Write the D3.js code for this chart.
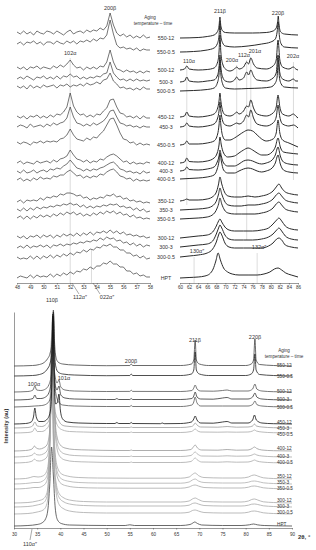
<!DOCTYPE html>
<html lang="en">
<head>
<meta charset="UTF-8">
<title>XRD patterns after aging</title>
<script src="https://d3js.org/d3.v7.min.js"></script>
<style>
  body { margin: 0; background: #fff; }
  text { font-family: "Liberation Sans", Arial, sans-serif; fill: #333; }
</style>
</head>
<body>
<script>
// sample names, top to bottom (aging temperature - time)
var samples = ["550-12", "550-0.5", "500-12", "500-3", "500-0.5",
               "450-12", "450-3", "450-0.5", "400-12", "400-3", "400-0.5",
               "350-12", "350-3", "350-0.5", "300-12", "300-3", "300-0.5", "HPT"];

// ---- top left panel, 2theta 48..58 (step 0.25) ----
var tlTheta = [48, 48.25, 48.5, 48.75, 49, 49.25, 49.5, 49.75, 50, 50.25,
               50.5, 50.75, 51, 51.25, 51.5, 51.75, 52, 52.25, 52.5, 52.75,
               53, 53.25, 53.5, 53.75, 54, 54.25, 54.5, 54.75, 55, 55.25,
               55.5, 55.75, 56, 56.25, 56.5, 56.75, 57, 57.25, 57.5, 57.75, 58];
var tlOffset = [250, 240, 215, 205, 196, 166, 157, 140, 120, 111, 103, 81, 73, 65, 46, 36, 25, 6];
var tlCounts = [
  [1,-1,2,-1,1,-2,2,0,-1,2, 1,-1,2,0,-2,1,3,-1,1,2, 0,3,1,3,2,5,3,7,20,8, 0,-3,-1,-4,-2,-5,-3,-5,-2,-5, -4],
  [-1,1,-2,1,0,2,-1,1,-2,1, 1,-1,2,0,-1,2,0,2,-1,2, 1,3,1,4,2,5,4,8,23,9, -2,-5,-4,-6,-5,-7,-5,-8,-6,-7, -7],
  [1,-1,1,-2,1,0,2,-1,1,0, -1,2,0,3,1,4,8,3,0,1, -2,1,-1,1,-1,2,1,6,18,6, -1,-2,-4,-2,-4,-3,-5,-3,-5,-3, -4],
  [-1,1,-1,2,0,-2,1,0,2,-1, 1,-1,2,-1,2,1,4,1,2,-1, 1,-1,1,0,2,1,4,5,16,5, 1,-2,-1,-3,-1,-3,-1,-3,-2,-3, -2],
  [1,-1,1,-2,2,-1,1,-1,2,0, 1,2,-1,2,1,3,0,2,1,3, 1,4,2,3,5,3,7,8,14,6, 3,-1,0,-2,-1,-3,-1,-3,0,-2, -2],
  [1,-1,1,-2,1,0,2,-1,1,-1, 2,0,3,2,5,10,24,11,5,2, 3,0,2,0,3,2,6,9,17,18, 10,4,3,0,1,-1,1,-2,1,-1, -1],
  [-1,1,0,-2,2,-1,0,1,-1,2, 0,3,1,3,4,8,19,9,3,2, 0,2,0,3,1,3,5,9,15,16, 9,3,2,0,1,-1,0,-2,0,-1, -1],
  [1,-1,1,0,-2,1,0,2,0,2, 1,2,1,4,5,8,14,8,4,3, 2,5,3,6,5,9,12,18,24,25, 18,10,4,3,0,1,-2,0,-2,-1, -2],
  [0,2,-1,1,0,-1,2,0,1,2, 0,3,1,4,5,7,13,8,4,3, 1,3,0,2,1,4,3,6,8,9, 7,4,1,2,-1,1,-1,0,-1,1, 0],
  [1,-1,2,-1,0,2,-1,1,2,0, 3,2,4,3,6,8,12,8,4,3, 1,3,1,3,2,4,5,7,9,10, 7,3,2,0,1,-1,0,-2,1,-1, 0],
  [0,2,-1,1,-1,2,0,3,1,2, 1,4,3,5,5,8,10,7,4,5, 2,4,2,4,3,6,5,8,10,11, 8,4,3,1,2,-1,1,-1,0,-1, 0],
  [0,2,-1,2,1,2,1,4,2,5, 4,6,5,8,7,9,9,8,6,7, 4,5,2,4,3,5,4,7,6,8, 5,6,3,4,1,2,0,1,-1,0, -1],
  [1,-1,2,-1,2,0,3,1,3,2, 4,3,5,4,6,5,7,5,6,3, 5,2,4,2,4,3,5,4,6,5, 6,3,4,2,3,0,2,-1,1,-2, -1],
  [0,2,-1,2,-1,2,0,3,1,3, 1,4,2,5,3,6,4,6,3,5, 2,4,2,5,3,6,4,7,5,7, 4,6,3,4,1,3,0,1,-1,0, -1],
  [1,-1,1,-2,1,0,2,-1,2,0, 2,-1,2,0,3,1,3,1,4,1, 4,2,5,2,5,4,6,4,7,4, 6,3,5,2,3,1,2,0,1,-1, 0],
  [-1,1,-1,2,-1,1,0,2,0,2, -1,2,1,3,1,3,2,4,3,5, 4,6,5,7,6,9,7,10,8,9, 6,7,4,5,2,4,1,3,0,2, 1],
  [1,-1,0,-1,2,-1,2,-1,2,0, 3,0,3,1,4,2,5,3,6,5, 8,6,9,8,11,10,13,12,14,11, 11,8,8,5,5,2,3,0,2,-1, 0],
  [-1,1,0,-1,2,-1,2,0,1,0, 3,0,3,1,4,2,5,3,6,5, 8,7,10,8,11,11,14,13,16,13, 13,10,10,6,6,3,4,1,2,0, 0]
];
var tlTicks = [48, 49, 50, 51, 52, 53, 54, 55, 56, 57, 58];

// ---- top right panel, 2theta 60..86, [2theta, counts above offset] ----
var trOffset = [245, 231, 213, 201, 192, 166, 156, 138, 120, 112, 104, 82, 73, 64, 45, 36, 26, 5];
var trCounts = [
  [[60,0],[64,0.5],[66,1.5],[67.5,3],[68.2,6],[68.6,12],[68.8,21],[69.0,12],[69.4,7],[70,5.5],[72,5],[76,5],[79,5.5],[80.5,7],[81.2,10],[81.5,16],[81.65,22],[81.8,14],[82.2,6],[83,4],[86,3]],
  [[60,0],[63,0.5],[66,2],[67.5,4],[68.2,8],[68.6,16],[68.8,30],[69.0,16],[69.4,9],[70,6],[72,5],[75,6],[78,8],[80,10],[81,13],[81.4,20],[81.65,30],[81.9,16],[82.3,8],[83,5],[86,4]],
  [[60,0],[61,1],[61.5,4],[62,1],[64,0],[66,0.5],[67.5,2],[68.3,8],[68.6,18],[68.8,35],[69.0,18],[69.4,6],[70,1],[71,-1],[72,1],[72.5,3],[73,1],[74,3],[74.7,8],[75.1,6],[75.6,12],[76.2,6],[77,2],[79,1],[80.5,4],[81.2,10],[81.6,30],[82,10],[82.6,3],[84,1],[85,3],[85.5,1],[86,0]],
  [[60,0],[61,1],[61.5,5],[62,1],[64,0],[66,1],[67.5,2],[68.3,7],[68.6,15],[68.8,27],[69.0,15],[69.4,5],[70,1],[71,0],[72,2],[72.5,5],[73,2],[74,4],[74.7,10],[75.1,7],[75.6,12],[76.2,6],[77,2],[79,1],[80.5,4],[81.2,9],[81.6,27],[82,9],[82.6,3],[84,1],[85,3],[85.5,1],[86,1]],
  [[60,0],[63,0.5],[66,1.5],[67.5,3],[68.3,9],[68.6,17],[68.8,31],[69.0,17],[69.4,7],[70,3],[72,2],[75,2.5],[78,3],[80,4],[81,8],[81.4,14],[81.65,31],[81.9,14],[82.3,7],[83,4],[86,3]],
  [[60,0],[61,1],[61.5,5],[62,1],[64,0],[66,1],[67.5,3],[68.3,9],[68.6,16],[68.8,24],[69.0,16],[69.4,6],[70,2],[71,1],[72,3],[72.5,5],[73,3],[74,6],[74.7,11],[75.1,10],[75.6,17],[76.2,9],[77,3],[79,1],[80.5,4],[81.2,10],[81.6,22],[82,10],[82.6,3],[84,1],[85,3],[85.5,1],[86,-1]],
  [[60,0],[61,1],[61.5,4],[62,1],[64,0],[66,1],[67.5,3],[68.3,9],[68.6,16],[68.8,25],[69.0,16],[69.4,6],[70,2],[71,1],[72,3],[72.5,4],[73,3],[74,6],[74.7,12],[75.1,10],[75.6,17],[76.2,9],[77,3],[79,1],[80.5,4],[81.2,10],[81.6,22],[82,10],[82.6,3],[84,1],[85,2],[85.5,1],[86,-1]],
  [[60,0],[61,1],[61.5,4],[62,1],[64,1],[66,2],[67.5,4],[68.3,11],[68.6,20],[68.8,30],[69.0,20],[69.4,9],[70,5],[71,5],[72,7],[73,10],[74,13],[75,15],[76,14],[77,10],[78,6],[79,4],[80.5,6],[81.2,12],[81.6,25],[82,12],[82.6,5],[84,2],[86,-2]],
  [[60,0],[61,1],[61.5,5],[62,1.5],[64,1],[66,2],[67.5,5],[68.2,10],[68.6,18],[68.8,26],[69.1,18],[69.6,10],[70.5,6],[72,7],[73,10],[74,13],[75,15],[76,13],[77,10],[78,8],[79,8],[80.3,11],[81,16],[81.6,25],[82.1,16],[82.8,11],[84,10],[86,9]],
  [[60,0],[61,1],[61.5,4],[62,1.5],[64,1],[66,2],[67.5,4],[68.2,9],[68.6,15],[68.8,21],[69.1,15],[69.6,8],[70.5,5],[72,5],[73,7],[74,10],[75,11],[76,10],[77,8],[78,7],[79,8],[80.3,11],[81,16],[81.6,24],[82.1,15],[82.8,9],[84,7],[86,6]],
  [[60,0],[62,0.5],[64,1],[66,2],[67.5,4],[68.2,10],[68.6,18],[68.8,26],[69.1,18],[69.6,9],[70.5,6],[72,6],[73,8],[74,10],[75,11],[76,10],[77,8],[78,7],[79,8],[80.3,11],[81,16],[81.6,24],[82.1,15],[82.8,9],[84,7],[86,6]],
  [[60,0],[61,1],[61.5,2],[62,1],[64,1],[66,2],[67.4,5],[68.1,10],[68.5,17],[68.8,24],[69.2,17],[69.8,9],[70.6,5],[72,4],[73.5,4],[75,5],[76.5,4],[78,5],[79.5,7],[80.5,10],[81.2,14],[81.8,17],[82.4,13],[83.2,9],[84.5,7],[86,6]],
  [[60,0],[62,0.5],[64,1],[66,2],[67.4,5],[68.1,10],[68.5,16],[68.8,22],[69.2,16],[69.8,9],[70.6,5],[72,4],[73.5,4],[75,5],[76.5,5],[78,6],[79.5,8],[80.5,11],[81.2,15],[81.8,17],[82.4,14],[83.2,10],[84.5,8],[86,7]],
  [[60,0],[62,0.5],[64,1],[66,2],[67.4,5],[68.1,10],[68.5,15],[68.8,21],[69.2,15],[69.8,9],[70.6,6],[72,5],[73.5,5],[75,5],[76.5,5],[78,6],[79.5,8],[80.5,11],[81.2,15],[81.8,17],[82.4,14],[83.2,10],[84.5,8],[86,7]],
  [[60,0],[62,1],[64,2],[66,3],[67.2,6],[68,12],[68.5,17],[68.8,19],[69.2,16],[69.9,11],[70.8,8],[72,7],[74,7],[76,7],[78,8],[79.5,10],[80.5,14],[81.3,18],[81.8,20],[82.4,17],[83.2,12],[84.5,9],[86,8]],
  [[60,0],[62,1],[64,2],[66,3],[67.2,6],[68,13],[68.5,19],[68.8,22],[69.2,19],[69.9,12],[70.8,8],[72,7],[74,7],[76,7],[78,8],[79.5,10],[80.5,13],[81.3,17],[81.8,19],[82.4,16],[83.2,11],[84.5,8],[86,7]],
  [[60,0],[62,1],[64,2],[66,4],[67.2,8],[68,15],[68.5,22],[68.8,25],[69.2,22],[69.9,14],[70.8,10],[72,9],[74,9],[76,9],[78,9],[79.5,11],[80.5,14],[81.3,18],[81.8,19],[82.4,17],[83.2,12],[84.5,10],[86,9]],
  [[60,0],[62,0.5],[64,1],[65.5,2],[66.5,4],[67.3,9],[67.9,17],[68.4,25],[68.9,18],[69.6,10],[70.5,6],[71.5,4],[73,3],[75,3],[77,3],[78.5,4],[79.8,6],[80.8,9],[81.6,10],[82.4,8],[83.3,5],[84.5,3],[86,1]]
];
var trTicks = [60, 62, 64, 66, 68, 70, 72, 74, 76, 78, 80, 82, 84, 86];

// ---- bottom panel, full scan 30..90, [2theta, counts above offset] ----
var btOffset = [162, 152, 136, 128, 121, 104, 100, 95, 77, 71, 65, 49, 44, 39, 25, 21, 14, 2];
var btCounts = [
  [[30,0],[34,0.5],[35.5,1.5],[36.5,3.5],[37.2,7],[37.8,13],[38.2,24],[38.5,56],[38.75,24],[39,10],[39.5,4],[40.5,2],[43,1],[50,0.3],[55,0.5],[55.3,2],[55.6,0.5],[66,0.5],[68.3,2],[68.8,6],[69.1,26],[69.35,6],[70,2],[72,0.5],[80,0.5],[81.2,2],[81.7,6],[82,27],[82.25,6],[83,1.5],[86,0.5],[90,0]],
  [[30,0],[34,0.5],[35.5,1.5],[36.5,3.5],[37.2,7],[37.8,13],[38.2,25],[38.5,64],[38.75,25],[39,10],[39.5,4],[40.5,2],[43,1],[50,0.3],[55,0.5],[55.3,2],[55.6,0.5],[66,0.5],[68.3,2],[68.8,6],[69.1,24],[69.35,6],[70,2],[72,0.5],[80,0.5],[81.2,2],[81.7,6],[82,22],[82.25,6],[83,1.5],[86,0.5],[90,0]],
  [[30,0],[33,0.5],[34.1,2],[34.5,6],[34.9,2],[35.8,1.5],[36.8,3],[37.5,7],[38,16],[38.2,36],[38.4,78],[38.6,36],[38.8,18],[39.3,9],[39.7,12],[40.1,5],[41,2],[43,1],[50,0.5],[55,0.6],[55.3,1.8],[55.6,0.6],[66,0.5],[68.4,1.5],[68.8,4],[69.1,7],[69.5,3],[70.3,1],[73,0.8],[75,1.5],[76,2],[77,1],[80.5,1],[81.5,3],[82,8],[82.4,3],[83.5,1],[86,0.3],[90,0]],
  [[30,0],[33,0.5],[34.1,1.5],[34.5,5],[34.9,1.5],[35.8,1.5],[36.8,3],[37.5,7],[38,18],[38.2,40],[38.4,86],[38.6,40],[38.8,18],[39.3,10],[39.7,14],[40.1,5],[41,2],[43,1],[50,0.5],[51.8,0.5],[52.2,1.5],[52.6,0.5],[55,0.5],[55.3,1.5],[55.6,0.5],[66,0.5],[68.4,1.5],[68.8,4],[69.1,8],[69.5,3],[70.3,1],[73,0.8],[75,2],[76,2.5],[77,1],[80.5,1],[81.5,3],[82,7],[82.4,3],[83.5,1],[86,0.3],[90,0]],
  [[30,0],[33,0.5],[34.5,1],[36,1.5],[37,3],[37.7,7],[38.1,18],[38.3,40],[38.5,89],[38.7,40],[38.9,18],[39.4,7],[39.8,4],[40.5,2],[43,1],[50,0.5],[55,0.5],[55.3,1.5],[55.6,0.5],[66,0.5],[68.4,2],[68.8,5],[69.1,10],[69.5,4],[70.3,1],[75,1],[80.5,1],[81.5,2.5],[82,6],[82.4,2.5],[83.5,1],[86,0.3],[90,0]],
  [[30,0],[32.5,0.5],[33.7,2],[34.2,7],[34.5,16],[34.8,7],[35.4,2.5],[36.3,2.5],[37.2,5],[37.8,12],[38.1,30],[38.4,108],[38.7,40],[39.0,20],[39.4,22],[39.7,30],[40.0,14],[40.5,5],[41.5,2],[44,1],[50,0.5],[51.8,0.5],[52.2,1.5],[52.6,0.5],[55,0.5],[55.3,1.5],[55.6,0.5],[61.6,0.3],[62,1],[62.4,0.3],[66,0.5],[68.3,2],[68.8,5],[69.1,8],[69.5,4],[70.3,1],[73,0.8],[75,2],[76,2.5],[77,1],[80.5,1],[81.5,4],[81.9,9],[82.3,4],[83.5,1],[86,0.3],[90,0]],
  [[30,0],[33,0.5],[34,2],[34.5,6],[35,2],[36,1.5],[37,4],[37.7,10],[38.0,30],[38.3,110],[38.6,35],[39.0,14],[39.6,8],[40.1,4],[41,2],[44,1],[50,0.5],[55,0.5],[55.3,1],[55.6,0.5],[66,0.5],[68.3,1.5],[68.8,3],[69.1,5],[69.5,3],[70.3,1],[74,0.8],[76,1.5],[78,0.8],[80.5,1],[81.5,2],[81.9,4],[82.3,2],[83.5,1],[86,0.3],[90,0]],
  [[30,0],[33,0.5],[34,1.5],[34.5,5],[35,1.5],[36,1.5],[37,4],[37.7,10],[38.0,30],[38.3,113],[38.6,32],[39.0,13],[39.6,6],[40.5,3],[42,1.5],[45,1],[50,0.5],[55,0.5],[55.3,1],[55.6,0.5],[66,0.5],[68.3,1.5],[68.8,3],[69.1,4],[69.5,2.5],[70.3,1],[74,0.8],[76,1],[78,0.8],[80.5,1],[81.5,2],[81.9,3],[82.3,2],[83.5,1],[86,0.3],[90,0]],
  [[30,0],[32.5,0.5],[33.7,1.5],[34.1,3],[34.4,5],[34.8,3],[35.5,2],[36.3,3],[37.1,6],[37.7,20],[38.0,60],[38.3,129],[38.6,65],[38.9,30],[39.3,14],[40,6],[41,3],[43,1.5],[46,1],[52,0.5],[55,0.5],[55.3,1],[55.6,0.5],[66,0.5],[68.2,1.5],[68.7,4],[69.1,6],[69.6,3],[70.5,1],[74,0.8],[76,1.5],[78,0.8],[80.5,1],[81.4,2.5],[81.9,4],[82.4,2.5],[83.5,1],[86,0.3],[90,0]],
  [[30,0],[32.5,0.5],[33.7,1.5],[34.1,2.5],[34.4,4],[34.8,2.5],[35.5,2],[36.3,3],[37.1,6],[37.7,20],[38.0,62],[38.3,135],[38.6,66],[38.9,30],[39.3,14],[40,6],[41,3],[43,1.5],[46,1],[52,0.5],[55,0.5],[55.3,1],[55.6,0.5],[66,0.5],[68.2,1.5],[68.7,3.5],[69.1,5],[69.6,3],[70.5,1],[74,0.8],[76,1.2],[78,0.8],[80.5,1],[81.4,2],[81.9,3],[82.4,2],[83.5,1],[86,0.3],[90,0]],
  [[30,0],[32.5,0.5],[33.7,1.5],[34.1,2.5],[34.4,4],[34.8,2.5],[35.5,2],[36.3,3],[37.1,6],[37.7,21],[38.0,64],[38.3,138],[38.6,68],[38.9,31],[39.3,14],[40,6],[41,3],[43,1.5],[46,1],[52,0.5],[55,0.5],[55.3,1],[55.6,0.5],[66,0.5],[68.2,1.5],[68.7,3.5],[69.1,5],[69.6,3],[70.5,1],[74,0.8],[76,1.2],[78,0.8],[80.5,1],[81.4,2],[81.9,3],[82.4,2],[83.5,1],[86,0.3],[90,0]],
  [[30,0],[32.5,0.5],[33.5,1.5],[34.3,2.5],[35.2,2],[36.2,3],[37,7],[37.5,20],[37.9,70],[38.2,149],[38.5,70],[38.9,25],[39.5,10],[40.3,5],[41.5,3],[44,1.5],[48,1],[55,0.8],[66,0.8],[67.8,2],[68.5,4.5],[69.1,6],[69.8,3.5],[71,1.5],[75,1],[79,1],[80.6,2],[81.3,3.5],[81.9,4],[82.6,3],[83.8,1.2],[86,0.5],[90,0]],
  [[30,0],[32.5,0.5],[33.5,1],[34.3,1.5],[35.2,1.5],[36.2,3],[37,7],[37.5,20],[37.9,72],[38.2,152],[38.5,72],[38.9,25],[39.5,10],[40.3,5],[41.5,3],[44,1.5],[48,1],[55,0.8],[66,0.8],[67.8,2],[68.5,4],[69.1,5],[69.8,3],[71,1.5],[75,1],[79,1],[80.6,1.8],[81.3,2.8],[81.9,3],[82.6,2.5],[83.8,1.2],[86,0.5],[90,0]],
  [[30,0],[32.5,0.5],[33.5,1],[34.3,1.5],[35.2,1.5],[36.2,3],[37,7],[37.5,21],[37.9,74],[38.2,154],[38.5,74],[38.9,26],[39.5,10],[40.3,5],[41.5,3],[44,1.5],[48,1],[55,0.8],[66,0.8],[67.8,2],[68.5,3.5],[69.1,4],[69.8,3],[71,1.5],[75,1],[79,1],[80.6,1.8],[81.3,2.8],[81.9,3],[82.6,2.5],[83.8,1.2],[86,0.5],[90,0]],
  [[30,0],[33,0.5],[35,2],[36.3,4],[37.1,10],[37.6,40],[38.1,165],[38.6,50],[39.1,20],[39.8,9],[40.8,5],[42,3],[45,1.5],[50,1],[55,1],[66,1],[67.8,2],[68.5,4],[69.1,5],[69.8,3.5],[71,1.5],[75,1],[79,1],[80.6,2],[81.3,3.5],[81.9,4],[82.6,3],[83.8,1.2],[86,0.5],[90,0]],
  [[30,0],[33,0.5],[35,2],[36.3,4],[37.1,10],[37.6,41],[38.1,167],[38.6,51],[39.1,20],[39.8,9],[40.8,5],[42,3],[45,1.5],[50,1],[55,1],[66,1],[67.8,1.8],[68.5,3.5],[69.1,4],[69.8,3],[71,1.5],[75,1],[79,1],[80.6,1.8],[81.3,2.8],[81.9,3],[82.6,2.5],[83.8,1.2],[86,0.5],[90,0]],
  [[30,0],[33,0.5],[35,2],[36.3,4],[37.1,10],[37.6,42],[38.1,169],[38.6,52],[39.1,21],[39.8,9],[40.8,5],[42,3],[45,1.5],[50,1],[55,1],[66,1],[67.8,1.8],[68.5,3.5],[69.1,4],[69.8,3],[71,1.5],[75,1],[79,1],[80.6,1.8],[81.3,2.8],[81.9,3],[82.6,2.5],[83.8,1.2],[86,0.5],[90,0]],
  [[30,0],[33,0.5],[35,1.5],[36,3],[36.8,7],[37.3,16],[37.7,40],[38.1,79],[38.5,50],[38.9,18],[39.4,6],[40.2,2.5],[42,1],[50,0.5],[54,0.5],[55,1.2],[56,0.5],[66,0.5],[68,1.5],[68.6,3],[69.0,4],[69.6,2.5],[70.5,1],[75,0.5],[79,0.5],[80.8,1.2],[81.7,2],[82.5,1.2],[84,0.5],[90,0]]
];
var btTicks = [30, 35, 40, 45, 50, 55, 60, 65, 70, 75, 80, 85, 90];

// line colours of the full scans (dark = long / high temperature, grey = the rest)
var btStroke = ["#444", "#222", "#555", "#333", "#555", "#111", "#9a9a9a", "#aaa",
                "#999", "#aaa", "#aaa", "#aaa", "#b0b0b0", "#aaa", "#aaa", "#aaa", "#aaa", "#444"];
// label baselines of the full scans (packed groups spread a little)
var btLabelY = [367, 378, 393, 401, 408.5, 423.5, 429.5, 436, 450, 457.5, 464, 477.5, 483.5, 490, 501.5, 507.5, 514, 526];

var W = 316, H = 550;
var svg = d3.select("body").append("svg").attr("width", W).attr("height", H);

var xTL = d3.scaleLinear().domain([48, 58]).range([17, 150]);
var xTR = d3.scaleLinear().domain([60, 86]).range([180, 298]);
var yTop = d3.scaleLinear().domain([0, 270]).range([283, 13]);
var xB = d3.scaleLinear().domain([30, 90]).range([14, 292]);
var yB = d3.scaleLinear().domain([0, 216]).range([528, 312]);

function guide(x, y1, y2) {
    svg.append("line").attr("x1", x).attr("x2", x).attr("y1", y1).attr("y2", y2)
        .attr("stroke", "#c4c4c4").attr("stroke-width", 0.6);
}
function label(txt, x, y, size, anchor) {
    return svg.append("text").attr("x", x).attr("y", y)
        .attr("font-size", size || 5.5).attr("text-anchor", anchor || "middle").text(txt);
}

// guide lines of the top panels
guide(xTL(52.0), 58, 283);
guide(xTL(53.6), 250, 283);
guide(xTR(61.5), 66, 205);
guide(xTR(72.5), 65, 215);
guide(xTR(74.7), 60, 240);
guide(xTR(75.6), 57, 130);
guide(xTR(85.0), 62, 180);
guide(xTR(63.1), 257, 283);
guide(xTR(77.0), 253, 283);

// top left curves (noisy)
samples.forEach(function (s, i) {
    var line = d3.line()
        .x(function (d, j) { return xTL(tlTheta[j]); })
        .y(function (d) { return yTop(tlOffset[i] + d); });
    svg.append("path").attr("d", line(tlCounts[i]))
        .attr("fill", "none").attr("stroke", "#3a3a3a").attr("stroke-width", 0.7);
});

// top right curves
samples.forEach(function (s, i) {
    var line = d3.line()
        .x(function (d) { return xTR(d[0]); })
        .y(function (d) { return yTop(trOffset[i] + d[1]); })
        .curve(d3.curveMonotoneX);
    svg.append("path").attr("d", line(trCounts[i]))
        .attr("fill", "none").attr("stroke", "#2a2a2a").attr("stroke-width", 1);
});

// sample names between the two top panels
samples.forEach(function (s, i) {
    label(s, 166, yTop(trOffset[i]) + 2, 5.3);
});
label("Aging", 150, 19, 4.6);
label("temperature \u2013 time", 153, 25, 4.6);

// top axes
function smallAxis(ax, y) {
    var g = svg.append("g").attr("transform", "translate(0," + y + ")").call(ax);
    g.select(".domain").attr("stroke", "#555").attr("stroke-width", 0.6);
    g.selectAll(".tick line").attr("stroke", "#555").attr("stroke-width", 0.6);
    g.selectAll(".tick text").attr("font-size", 4.6).attr("fill", "#444")
        .attr("font-family", "Liberation Sans, Arial, sans-serif");
    return g;
}
smallAxis(d3.axisBottom(xTL).tickValues(tlTicks).tickSize(1.5).tickSizeOuter(0).tickPadding(1.5), 283);
smallAxis(d3.axisBottom(xTR).tickValues(trTicks).tickSize(1.5).tickSizeOuter(0).tickPadding(1.5), 283);

// top peak labels
label("200\u03b2", xTL(55.0), 10);
label("102\u03b1", xTL(52.0), 55);
label("112\u03b1\u2033", 80, 299);
label("022\u03b1\u2033", 107, 299);
svg.append("line").attr("x1", 72).attr("y1", 283).attr("x2", 79).attr("y2", 294)
    .attr("stroke", "#555").attr("stroke-width", 0.5);
svg.append("line").attr("x1", 93).attr("y1", 283).attr("x2", 100).attr("y2", 294)
    .attr("stroke", "#555").attr("stroke-width", 0.5);
label("211\u03b2", 220, 13);
label("220\u03b2", 278, 15);
label("110\u03b1", 189, 63);
label("200\u03b1", 232, 62);
label("112\u03b1", 244, 57);
label("201\u03b1", 255, 53);
label("202\u03b1", 293, 58);
label("130\u03b1\u2033", 197, 253);
label("132\u03b1\u2033", 259, 249);

// bottom panel: grey curves first, dark ones on top
var order = d3.range(samples.length).sort(function (a, b) {
    return d3.hsl(btStroke[b]).l - d3.hsl(btStroke[a]).l;
});
order.forEach(function (i) {
    var line = d3.line()
        .x(function (d) { return xB(d[0]); })
        .y(function (d) { return yB(btOffset[i] + d[1]); })
        .curve(d3.curveMonotoneX);
    svg.append("path").attr("d", line(btCounts[i]))
        .attr("fill", "none").attr("stroke", btStroke[i]).attr("stroke-width", 0.8);
});
samples.forEach(function (s, i) {
    label(s, 277, btLabelY[i], 4.7, "start");
});
label("Aging", 284, 352, 4.6);
label("temperature \u2013 time", 284, 358, 4.6);

smallAxis(d3.axisBottom(xB).tickValues(btTicks).tickSize(1.5).tickSizeOuter(0).tickPadding(3), 528);
var gy = svg.append("g").attr("transform", "translate(14,0)")
    .call(d3.axisLeft(yB).tickValues([]).tickSizeOuter(0));
gy.select(".domain").attr("stroke", "#555").attr("stroke-width", 0.6);

label("110\u03b2", 52, 302);
label("100\u03b1", 34, 386);
label("101\u03b1", 64, 380);
label("200\u03b2", 131, 363);
label("211\u03b2", 195, 342);
label("220\u03b2", 255, 339);
label("110\u03b1\u2033", 30, 546);
svg.append("line").attr("x1", 32).attr("y1", 529).attr("x2", 30).attr("y2", 540)
    .attr("stroke", "#555").attr("stroke-width", 0.5);
label("2\u03b8, \u00b0", 298, 539, 6, "start").attr("font-weight", "bold");
label("Intensity (au)", 0, 0, 5.6).attr("font-weight", "bold")
    .attr("transform", "translate(8,426) rotate(-90)");
</script>
</body>
</html>
